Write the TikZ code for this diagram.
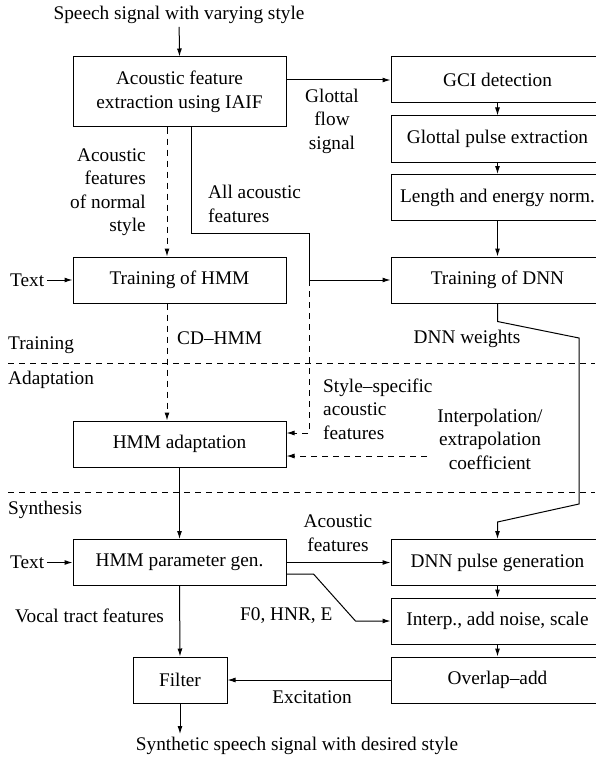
\documentclass[tikz,border=0pt]{standalone}
\usepackage{fontspec}
\setmainfont{Liberation Serif}
\usetikzlibrary{arrows.meta, positioning, calc}

\begin{document}
\begin{tikzpicture}[x=1pt, y=-1pt,
        pbox/.style={rectangle, draw=black, line width=1pt, minimum width=213pt, minimum height=46pt, align=center, inner sep=2pt},
        lbl/.style={align=center, inner sep=3pt},
        wire/.style={draw=black, line width=1pt, -{Latex[length=8pt, width=5pt]}},
        dwire/.style={draw=black, line width=1pt, dash pattern=on 6pt off 5pt, -{Latex[length=8pt, width=5pt]}},
        sepline/.style={draw=black, line width=0.9pt, dash pattern=on 6pt off 5pt},
        font=\fontsize{19.3}{23.5}\selectfont
    ]
        \useasboundingbox (0,0) rectangle (595,757);

        % Columna izquierda (HMM)
        \node [pbox, minimum height=70pt] (feat) at (179.5, 92) {Acoustic feature\\extraction using IAIF};
        \node [pbox] (hmm) at (179.5, 280) {Training of HMM};
        \node [pbox] (adapt) at (179.5, 444) {HMM adaptation};
        \node [pbox] (gen) at (179.5, 562.5) {HMM parameter gen.};
        \node [pbox, minimum width=94pt] (filter) at (180, 680) {Filter};

        % Columna derecha (DNN)
        \node [pbox] (gci) at (497.5, 80) {GCI detection};
        \node [pbox] (pulse) at (497.5, 139) {Glottal pulse extraction};
        \node [pbox] (norm) at (497.5, 197.5) {Length and energy norm.};
        \node [pbox] (dnn) at (497.5, 280) {Training of DNN};
        \node [pbox] (pulsegen) at (497.5, 562.5) {DNN pulse generation};
        \node [pbox] (interp) at (497.5, 621) {Interp., add noise, scale};
        \node [pbox] (ola) at (497.5, 680) {Overlap--add};

        % Entradas y salidas
        \node [lbl] (input) at (179, 15) {Speech signal with varying style};
        \node [lbl] (output) at (297, 746) {Synthetic speech signal with desired style};
        \node [lbl, anchor=west] (text1) at (7, 280) {Text};
        \node [lbl, anchor=west] (text2) at (7, 562.5) {Text};

        % Etiquetas de las fases
        \node [lbl, anchor=west] (ltrain) at (5, 345) {Training};
        \node [lbl, anchor=west] (ladapt) at (5, 380) {Adaptation};
        \node [lbl, anchor=west] (lsynth) at (5, 510) {Synthesis};
        \draw [sepline] (8, 363) -- (595, 363);
        \draw [sepline] (8, 492) -- (595, 492);

        % Etiquetas de las conexiones
        \node [lbl] (glottal) at (332, 121) {Glottal\\flow\\signal};
        \node [lbl, align=right, anchor=east] (normal) at (149, 192) {Acoustic\\features\\of normal\\style};
        \node [lbl, align=left, anchor=west] (allfeat) at (205, 204) {All acoustic\\features};
        \node [lbl, anchor=west] (cdhmm) at (174, 338) {CD--HMM};
        \node [lbl] (weights) at (467, 339) {DNN weights};
        \node [lbl, align=left, anchor=west] (specific) at (320, 409) {Style--specific\\acoustic\\features};
        \node [lbl] (coef) at (490, 439) {Interpolation/\\extrapolation\\coefficient};
        \node [lbl] (acfeat) at (338, 533) {Acoustic\\features};
        \node [lbl, anchor=west] (f0) at (237, 616) {F0, HNR, E};
        \node [lbl, anchor=west] (vocal) at (12, 616) {Vocal tract features};
        \node [lbl] (excit) at (312, 697) {Excitation};

        \coordinate (split) at (309, 280);
        \coordinate (coefin) at (427, 456);

        % Conexiones de la parte de entrenamiento
        \draw [wire] (input) -- (feat.north);
        \draw [wire] (feat.east |- gci.west) -- (gci.west);
        \draw [wire] (gci.south) -- (pulse.north);
        \draw [wire] (pulse.south) -- (norm.north);
        \draw [wire] (norm.south) -- (dnn.north);
        \draw [wire] (text1) -- (hmm.west);
        \draw [dwire] ([xshift=-12.5pt]feat.south) -- ([xshift=-12.5pt]hmm.north);
        \draw [draw=black, line width=1pt] ([xshift=11.5pt]feat.south) -- ++(0, 106) -| (split);
        \draw [wire] (split) -- (dnn.west);

        % Adaptacion
        \draw [dwire] ([xshift=-12.5pt]hmm.south) -- ([xshift=-12.5pt]adapt.north);
        \draw [dwire] (split) |- ([yshift=11pt]adapt.east);
        \draw [dwire] (coefin) -- (coefin -| adapt.east);
        \draw [wire] (dnn.south) -- ++(0, 18) -- (579, 338) -- (579, 504) -- ($(pulsegen.north)+(0, -17)$) -- (pulsegen.north);

        % Sintesis
        \draw [wire] (adapt.south) -- (gen.north);
        \draw [wire] (text2) -- (gen.west);
        \draw [wire] (gen.east) -- (pulsegen.west);
        \draw [wire] ([yshift=-11.5pt]gen.east) -- ++(27, 0) -- ([xshift=-35pt]interp.west) -- (interp.west);
        \draw [wire] (pulsegen.south) -- (interp.north);
        \draw [wire] (interp.south) -- (ola.north);
        \draw [wire] (gen.south) -- (filter.north);
        \draw [wire] (ola.west) -- (filter.east);
        \draw [wire] (filter.south) -- (filter.south |- output.north);
    \end{tikzpicture}
\end{document}
